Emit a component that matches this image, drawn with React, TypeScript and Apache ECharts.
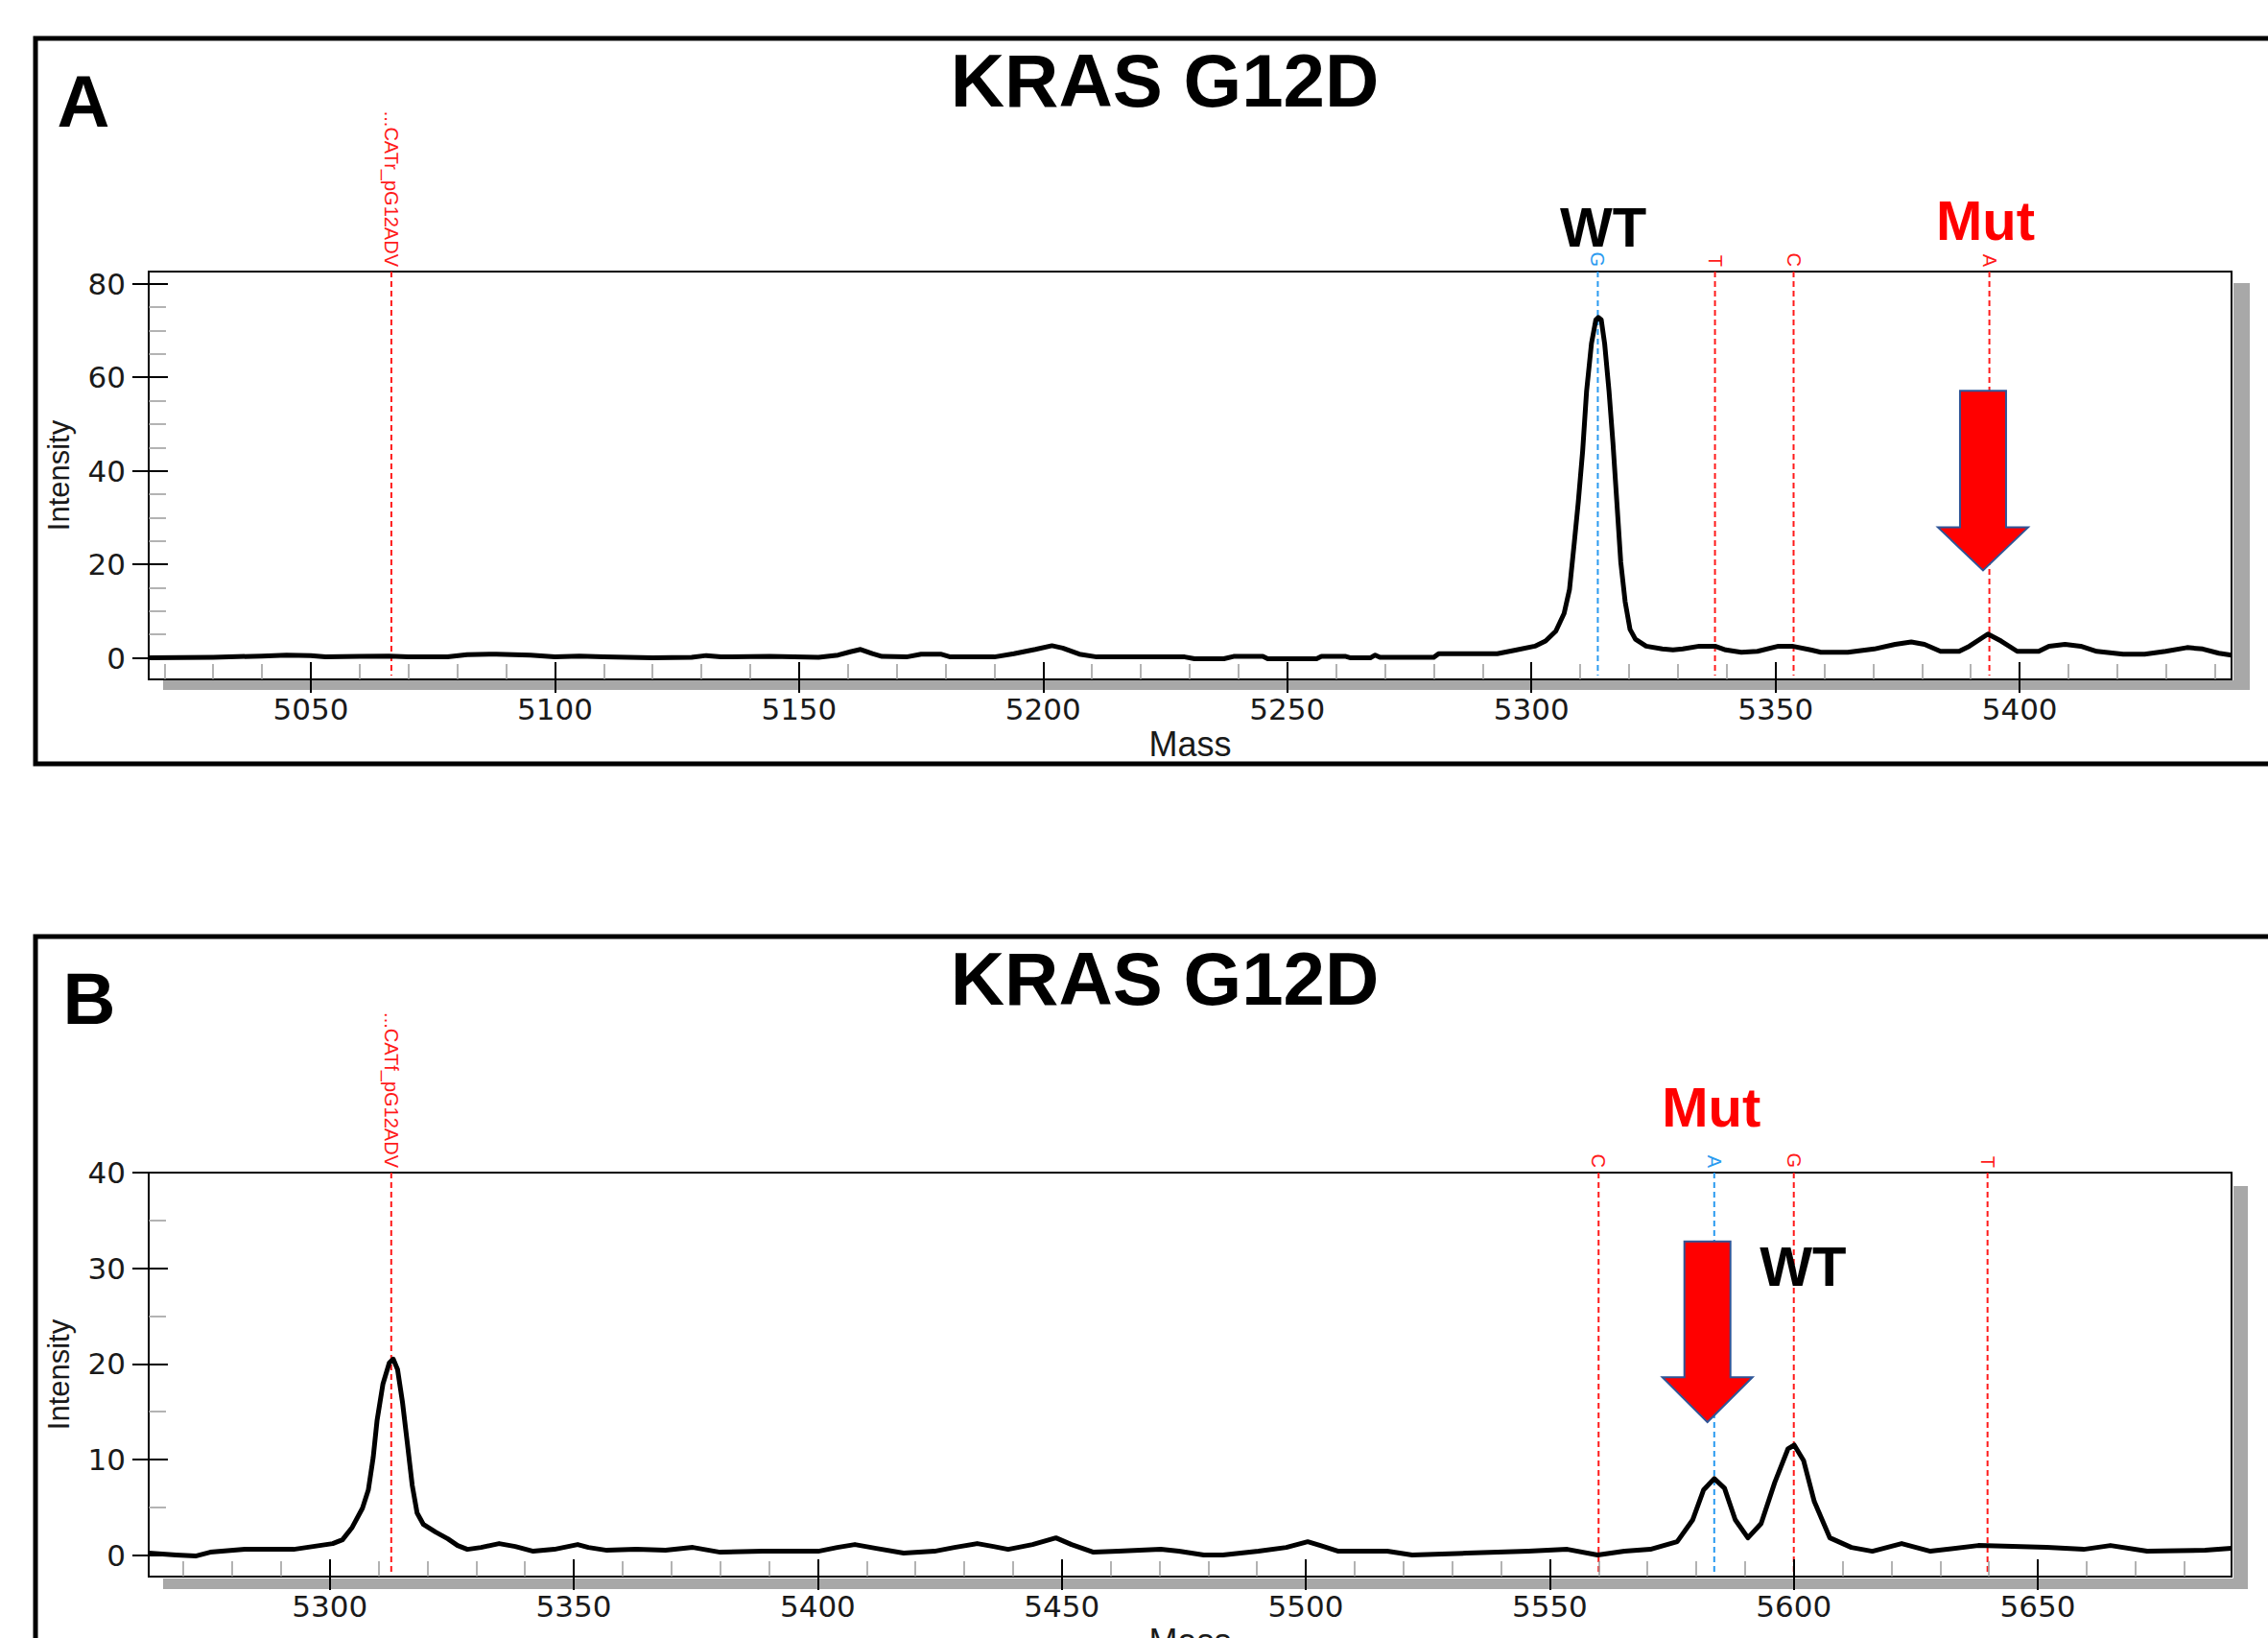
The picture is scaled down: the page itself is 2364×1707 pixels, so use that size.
import React, { useEffect, useRef } from "react";
import * as echarts from "echarts";

// ---------- DATA ----------
// Panel A spectrum: [mass (Da), intensity]
const spectrumA: [number, number][] = [
  [5016.8, 0.0], [5030, 0.1], [5040, 0.4], [5045, 0.6], [5050, 0.5], [5053, 0.2], [5060, 0.3],
  [5066, 0.4], [5070, 0.2], [5078, 0.2], [5082, 0.7], [5088, 0.8], [5095, 0.6], [5100, 0.2],
  [5105, 0.4], [5110, 0.2], [5120, 0.0], [5128, 0.1], [5131, 0.5], [5134, 0.2], [5144, 0.3],
  [5154, 0.1], [5158, 0.6], [5160.5, 1.3], [5162.6, 1.8], [5165, 0.9], [5167, 0.3], [5172, 0.2],
  [5175, 0.8], [5179, 0.8], [5181, 0.2], [5190, 0.2], [5194, 0.9], [5198.4, 1.8], [5201.8, 2.6],
  [5204, 2.1], [5207.4, 0.8], [5211, 0.2], [5229, 0.2], [5231, -0.2], [5237, -0.2], [5239, 0.3],
  [5245, 0.3], [5246, -0.2], [5256, -0.2], [5257, 0.3], [5262, 0.3], [5263, 0.0], [5267, 0.0],
  [5268, 0.6], [5269, 0.1], [5280, 0.1], [5281, 0.9], [5293, 0.9], [5296.5, 1.6], [5300.7, 2.5],
  [5302.9, 3.6], [5305.0, 5.7], [5306.7, 9.5], [5307.8, 14.6], [5308.8, 24.8], [5309.6, 33.3],
  [5310.5, 44.3], [5311.3, 57.0], [5312.3, 67.2], [5313.2, 72.3], [5313.7, 72.8], [5314.3, 72.3],
  [5315.0, 67.2], [5315.9, 57.0], [5316.7, 46.0], [5317.5, 33.3], [5318.3, 20.5], [5319.2, 12.0],
  [5320.2, 6.1], [5321.3, 4.0], [5323.5, 2.5], [5326.8, 1.9], [5329, 1.7], [5331, 1.9],
  [5334.4, 2.5], [5337.6, 2.5], [5339.8, 1.7], [5343, 1.2], [5346.3, 1.4], [5350.6, 2.5],
  [5353.4, 2.5], [5357.2, 1.7], [5359.3, 1.2], [5364.8, 1.2], [5370.2, 1.9], [5374.5, 2.9],
  [5377.8, 3.4], [5380.5, 2.9], [5383.8, 1.4], [5387.6, 1.4], [5389.7, 2.5], [5393.5, 5.1],
  [5396.2, 3.6], [5399.5, 1.4], [5403.9, 1.4], [5406, 2.5], [5409.3, 2.9], [5412.5, 2.5],
  [5415.8, 1.4], [5421.2, 0.8], [5425.6, 0.8], [5429.9, 1.4], [5434.3, 2.2], [5437.5, 1.9],
  [5440.8, 1.0], [5443.4, 0.6],
];

// Panel B spectrum: [mass (Da), intensity]
const spectrumB: [number, number][] = [
  [5262.9, 0.2], [5268.5, 0.0], [5272.5, -0.1], [5275.5, 0.3], [5282.6, 0.6], [5292.6, 0.6],
  [5300.6, 1.2], [5302.6, 1.6], [5304.6, 2.9], [5306.7, 4.9], [5307.9, 6.8], [5308.9, 10.2],
  [5309.7, 14.1], [5310.9, 17.9], [5312.2, 20.1], [5313.0, 20.5], [5313.9, 19.4], [5314.9, 16.0],
  [5315.9, 11.7], [5316.9, 7.3], [5317.9, 4.4], [5319.2, 3.2], [5321.7, 2.4], [5324.2, 1.7],
  [5326.2, 1.0], [5328.2, 0.6], [5331, 0.8], [5334.7, 1.2], [5338, 0.9], [5341.7, 0.4],
  [5346, 0.6], [5350.8, 1.1], [5353, 0.8], [5356.8, 0.5], [5362.8, 0.6], [5368.8, 0.5],
  [5374.4, 0.8], [5380.0, 0.3], [5388.7, 0.4], [5400.1, 0.4], [5404, 0.8], [5407.6, 1.1],
  [5412, 0.7], [5417.6, 0.2], [5423.9, 0.4], [5428, 0.8], [5432.7, 1.2], [5436, 0.9],
  [5439.0, 0.6], [5444, 1.1], [5448.8, 1.8], [5452, 1.1], [5456.5, 0.3], [5461.6, 0.4],
  [5470.3, 0.6], [5474, 0.4], [5479.1, 0.0], [5483.0, 0.0], [5490.3, 0.4], [5496, 0.8],
  [5500.4, 1.4], [5503, 1.0], [5506.7, 0.4], [5516.7, 0.4], [5521.8, 0.0], [5533.0, 0.2],
  [5545.6, 0.4], [5553.6, 0.6], [5559.8, 0.0], [5565.3, 0.4], [5570.6, 0.6], [5576.1, 1.4],
  [5579.3, 3.7], [5581.5, 6.8], [5583.7, 8.0], [5585.8, 7.0], [5588.0, 3.7], [5590.6, 1.8],
  [5593.3, 3.3], [5596.1, 7.6], [5598.8, 11.1], [5600.1, 11.5], [5602.0, 9.9], [5604.2, 5.6],
  [5607.4, 1.8], [5611.8, 0.8], [5616.1, 0.4], [5622.1, 1.2], [5628.0, 0.4], [5637.8, 1.0],
  [5651.8, 0.8], [5659.4, 0.6], [5664.9, 1.0], [5672.4, 0.4], [5684.3, 0.5], [5689.7, 0.7],
];

// Axis ranges & tick labels
const xRangeA = [5016.8, 5443.4];
const yRangeA = [-4.6, 82.6];
const xRangeB = [5262.9, 5689.7];
const yRangeB = [-2.25, 40];
const xTicksA = [5050, 5100, 5150, 5200, 5250, 5300, 5350, 5400];
const yTicksA = [0, 20, 40, 60, 80];
const xTicksB = [5300, 5350, 5400, 5450, 5500, 5550, 5600, 5650];
const yTicksB = [0, 10, 20, 30, 40];

// Expected-mass markers
const markerMassA = [5066.5, 5313.6, 5337.6, 5353.7, 5393.8];
const markerLabelA = ["...CATr_pG12ADV", "G", "T", "C", "A"];
const markerCalledA = [false, true, false, false, false];
const markerMassB = [5312.6, 5560.0, 5583.7, 5600.0, 5639.7];
const markerLabelB = ["...CATf_pG12ADV", "C", "A", "G", "T"];
const markerCalledB = [false, false, true, false, false];

// Arrows: [mass, shaft top, head base, tip] (intensity units)
const arrowA = [[5392.5, 57.1, 27.9, 18.7]];
const arrowB = [[5582.3, 32.8, 18.6, 13.9]];

// Callout texts: [mass, intensity]
const calloutPosA = [[5314.7, 92.1], [5393.0, 93.5]];
const calloutTextA = ["WT", "Mut"];
const calloutPosB = [[5601.9, 30.2], [5583.1, 46.9]];
const calloutTextB = ["WT", "Mut"];

const panelTitle = "KRAS G12D";

// ---------- STYLE ----------
const RED = "#ff1a1a";
const BLUE = "#2b9bf0";
const ARIAL = "Liberation Sans";

function minorValues(range: number[], step: number, majorStep: number) {
  const out: number[] = [];
  for (let v = Math.ceil(range[0] / step) * step; v <= range[1]; v += step) {
    if (Math.abs(v / majorStep - Math.round(v / majorStep)) > 1e-6) out.push(v);
  }
  return out;
}

const plain = (v: number) => String(v);

function axesFor(
  g: number,
  xr: number[],
  yr: number[],
  xt: number[],
  yt: number[],
  yMajor: number
) {
  const common = { type: "value" as const, gridIndex: g, splitLine: { show: false }, z: 4 };
  const xs = [
    {
      ...common, min: xr[0], max: xr[1], position: "bottom",
      axisLine: { show: false, onZero: false },
      axisTick: { show: true, inside: false, length: 14, customValues: xt, lineStyle: { color: "#000", width: 2 } },
      axisLabel: { show: true, customValues: xt, formatter: plain, margin: 15, fontSize: 31, fontFamily: "DejaVu Sans", color: "#1a1a1a" },
      name: "Mass", nameLocation: "middle", nameGap: 49, nameMoveOverlap: false,
      nameTextStyle: { fontSize: 36, fontFamily: ARIAL, color: "#1a1a1a" },
    },
    {
      ...common, min: xr[0], max: xr[1], position: "bottom",
      axisLine: { show: false, onZero: false },
      axisTick: { show: true, inside: true, length: 18, customValues: xt, lineStyle: { color: "#000", width: 2 } },
      axisLabel: { show: false },
    },
    {
      ...common, min: xr[0], max: xr[1], position: "bottom",
      axisLine: { show: false, onZero: false },
      axisTick: { show: true, inside: true, length: 16, customValues: minorValues(xr, 10, 50), lineStyle: { color: "#9a9a9a", width: 1.5 } },
      axisLabel: { show: false },
    },
  ];
  const ys = [
    {
      ...common, min: yr[0], max: yr[1], position: "left",
      axisLine: { show: false, onZero: false },
      axisTick: { show: true, inside: false, length: 17, customValues: yt, lineStyle: { color: "#000", width: 2 } },
      axisLabel: { show: true, customValues: yt, formatter: plain, margin: 24, fontSize: 31, fontFamily: "DejaVu Sans", color: "#1a1a1a" },
      name: "Intensity", nameLocation: "middle", nameGap: 78, nameMoveOverlap: false,
      nameTextStyle: { fontSize: 31, fontFamily: ARIAL, color: "#1a1a1a" },
    },
    {
      ...common, min: yr[0], max: yr[1], position: "left",
      axisLine: { show: false, onZero: false },
      axisTick: { show: true, inside: true, length: 20, customValues: yt, lineStyle: { color: "#000", width: 2 } },
      axisLabel: { show: false },
    },
    {
      ...common, min: yr[0], max: yr[1], position: "left",
      axisLine: { show: false, onZero: false },
      axisTick: { show: true, inside: true, length: 18, customValues: minorValues(yr, 5, yMajor), lineStyle: { color: "#9a9a9a", width: 1.5 } },
      axisLabel: { show: false },
    },
  ];
  return { xs, ys };
}

function seriesFor(
  axisIdx: number,
  spectrum: [number, number][],
  mMass: number[],
  mLabel: string[],
  mCalled: boolean[],
  arrow: number[][],
  cPos: number[][],
  cText: string[]
) {
  const ax = { xAxisIndex: axisIdx, yAxisIndex: axisIdx };
  return [
    {
      type: "custom", ...ax, z: 2, clip: false, silent: true,
      data: mMass.map((m) => [m, 0]),
      renderItem: (params: any, api: any) => {
        const cs = params.coordSys;
        const x = api.coord([api.value(0), 0])[0];
        const i = params.dataIndex;
        const color = mCalled[i] ? BLUE : RED;
        return {
          type: "group",
          children: [
            {
              type: "line",
              shape: { x1: x, y1: cs.y, x2: x, y2: cs.y + cs.height - 4 },
              style: { stroke: color, lineWidth: 2, lineDash: [6, 4], fill: null },
            },
            {
              type: "text", x: x, y: cs.y - 5, rotation: -Math.PI / 2,
              style: {
                text: mLabel[i], fill: color, fontSize: 20, fontFamily: ARIAL,
                align: "right", verticalAlign: "middle", textAlign: "right", textVerticalAlign: "middle",
              },
            },
          ],
        };
      },
    },
    {
      type: "line", ...ax, z: 3, data: spectrum, showSymbol: false, symbol: "none",
      lineStyle: { color: "#000", width: 5, join: "round" }, silent: true,
    },
    {
      type: "custom", ...ax, z: 4, clip: false, silent: true,
      data: arrow,
      renderItem: (params: any, api: any) => {
        const m = api.value(0);
        const top = api.coord([m, api.value(1)]);
        const base = api.coord([m, api.value(2)]);
        const tip = api.coord([m, api.value(3)]);
        const cx = top[0];
        const sh = 24, hh = 47;
        return {
          type: "polygon",
          shape: {
            points: [
              [cx - sh, top[1]], [cx + sh, top[1]], [cx + sh, base[1]], [cx + hh, base[1]],
              [cx, tip[1]], [cx - hh, base[1]], [cx - sh, base[1]],
            ],
          },
          style: { fill: "#ff0000", stroke: "#2f5597", lineWidth: 2 },
        };
      },
    },
    {
      type: "custom", ...ax, z: 5, clip: false, silent: true,
      data: cPos,
      renderItem: (params: any, api: any) => {
        const p = api.coord([api.value(0), api.value(1)]);
        const t = cText[params.dataIndex];
        return {
          type: "text", x: p[0], y: p[1],
          style: {
            text: t, fill: t === "Mut" ? "#ff0000" : "#000", fontSize: 58, fontWeight: "bold", fontFamily: ARIAL,
            align: "center", verticalAlign: "middle", textAlign: "center", textVerticalAlign: "middle",
          },
        };
      },
    },
  ];
}

export default function App() {
  const ref = useRef<HTMLDivElement>(null);
  useEffect(() => {
    if (!ref.current) return;
    const chart = echarts.init(ref.current, undefined, { renderer: "svg" });
    const A = axesFor(0, xRangeA, yRangeA, xTicksA, yTicksA, 20);
    const B = axesFor(1, xRangeB, yRangeB, xTicksB, yTicksB, 10);
    const gridStyle = {
      show: true, borderColor: "#000", borderWidth: 2, backgroundColor: "transparent",
      containLabel: false, outerBoundsMode: "none",
    };
    const boxStyle = { fill: "none", stroke: "#000", lineWidth: 5 };
    const shadow = { fill: "#a8a8a8" };
    const bigText = (text: string, x: number, y: number, size: number) => ({
      type: "text", x, y, z: 6,
      style: {
        text, fill: "#000", fontSize: size, fontWeight: "bold", fontFamily: ARIAL,
        align: "center", verticalAlign: "middle", textAlign: "center", textVerticalAlign: "middle",
      },
    });
    chart.setOption({
      animation: false,
      backgroundColor: "#fff",
      textStyle: { fontFamily: ARIAL },
      grid: [
        { ...gridStyle, left: 155, top: 283, width: 2171, height: 425 },
        { ...gridStyle, left: 155, top: 1222, width: 2171, height: 421 },
      ],
      xAxis: [...A.xs, ...B.xs],
      yAxis: [...A.ys, ...B.ys],
      graphic: [
        { type: "rect", z: -1, shape: { x: 170, y: 709, width: 2175, height: 10 }, style: shadow },
        { type: "rect", z: -1, shape: { x: 2328, y: 295, width: 17, height: 424 }, style: shadow },
        { type: "rect", z: -1, shape: { x: 170, y: 1645, width: 2173, height: 11 }, style: shadow },
        { type: "rect", z: -1, shape: { x: 2328, y: 1236, width: 15, height: 420 }, style: shadow },
        { type: "rect", z: 6, shape: { x: 37, y: 40, width: 2400, height: 756 }, style: boxStyle },
        { type: "rect", z: 6, shape: { x: 37, y: 976, width: 2400, height: 800 }, style: boxStyle },
        bigText(panelTitle, 1214, 84, 78),
        bigText(panelTitle, 1214, 1020, 78),
        bigText("A", 87, 105, 76),
        bigText("B", 93, 1040, 76),
      ],
      series: [
        ...seriesFor(0, spectrumA, markerMassA, markerLabelA, markerCalledA, arrowA, calloutPosA, calloutTextA),
        ...seriesFor(3, spectrumB, markerMassB, markerLabelB, markerCalledB, arrowB, calloutPosB, calloutTextB),
      ],
    });
    return () => chart.dispose();
  }, []);
  return (
    <div
      ref={ref}
      style={{ position: "fixed", left: 0, top: 0, width: 2364, height: 1707, background: "#fff" }}
    />
  );
}
